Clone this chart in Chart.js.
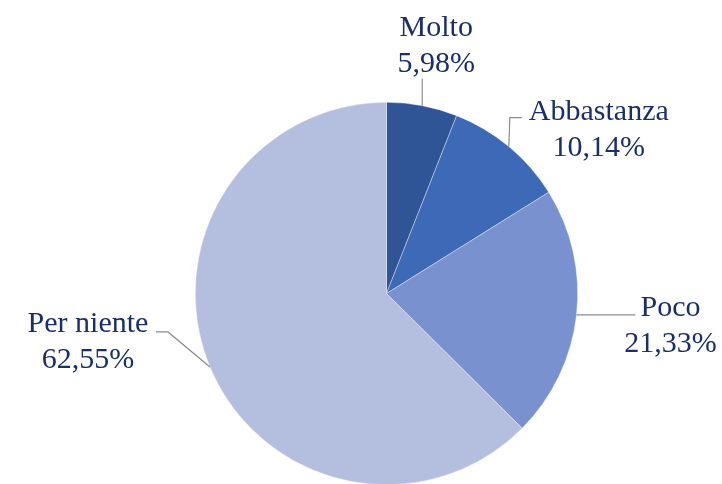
<!DOCTYPE html>
<html><head><meta charset="utf-8">
<script src="https://cdn.jsdelivr.net/npm/chart.js@4"></script>
<style>html,body{margin:0;padding:0;overflow:hidden;background:#fff;width:722px;height:484px}#wrap{width:722px;height:490px}</style>
</head><body><div id="wrap"><canvas id="c" width="722" height="490"></canvas></div>
<script>
const categories = ["Molto", "Abbastanza", "Poco", "Per niente"];
const values = [5.98, 10.14, 21.33, 62.55];
const sliceColors = ["#2F5597", "#3D69B7", "#7A91CF", "#B4BEDF"];

// label layout relative to each slice's outer mid-point
const labelLayout = [
  {pts: [[0, -27]], tx: 14, ty: -70, align: "center"},
  {pts: [[1, -29], [13, -29]], tx: 90, ty: -27, align: "center"},
  {pts: [[59, 0]], tx: 94, ty: 1, align: "center"},
  {pts: [[-42, -35], [-54, -35]], tx: -122, ty: -35, align: "center"}
];

const labelPlugin = {
  id: "pieLabels",
  afterDatasetsDraw(chart) {
    const ctx = chart.ctx;
    const meta = chart.getDatasetMeta(0);
    meta.data.forEach((arc, i) => {
      const p = arc.getProps(["x", "y", "startAngle", "endAngle", "outerRadius"], true);
      const mid = (p.startAngle + p.endAngle) / 2;
      const ax = p.x + Math.cos(mid) * p.outerRadius;
      const ay = p.y + Math.sin(mid) * p.outerRadius;
      const L = labelLayout[i];
      ctx.save();
      ctx.strokeStyle = "#8c8c8c";
      ctx.lineWidth = 1.2;
      ctx.beginPath();
      ctx.moveTo(ax, ay);
      L.pts.forEach(q => ctx.lineTo(ax + q[0], ay + q[1]));
      ctx.stroke();
      ctx.fillStyle = "#1A2F6A";
      ctx.font = "30px 'Liberation Serif', 'DejaVu Serif', serif";
      ctx.textAlign = L.align;
      ctx.textBaseline = "alphabetic";
      const tx = ax + L.tx, ty = ay + L.ty;
      ctx.fillText(categories[i], tx, ty);
      ctx.fillText(values[i].toFixed(2).replace(".", ",") + "%", tx, ty + 36);
      ctx.restore();
    });
  }
};

new Chart(document.getElementById("c"), {
  type: "pie",
  data: {
    labels: categories,
    datasets: [{
      data: values,
      backgroundColor: sliceColors,
      borderColor: "rgba(255,255,255,0.6)",
      borderWidth: 0.6
    }]
  },
  options: {
    responsive: false,
    animation: false,
    layout: {padding: {left: 195, right: 144, top: 102, bottom: 5}},
    plugins: {legend: {display: false}, tooltip: {enabled: false}}
  },
  plugins: [labelPlugin]
});
</script>
</body></html>
